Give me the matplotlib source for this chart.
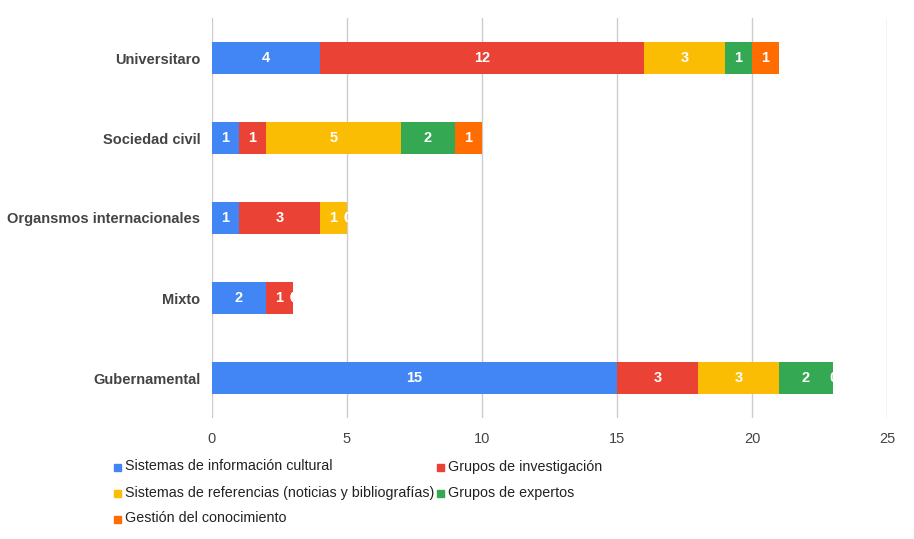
import matplotlib.pyplot as plt
import numpy as np
from matplotlib.patches import Rectangle

plt.rcParams['font.family'] = ['Liberation Sans', 'DejaVu Sans']

categories = ["Universitaro", "Sociedad civil", "Organsmos internacionales", "Mixto", "Gubernamental"]
series_names = ["Sistemas de información cultural", "Grupos de investigación",
                "Sistemas de referencias (noticias y bibliografías)", "Grupos de expertos",
                "Gestión del conocimiento"]
colors = ["#4285F4", "#EA4335", "#FBBC04", "#34A853", "#FF6D01"]

info_cultural = [4, 1, 1, 2, 15]
investigacion = [12, 1, 3, 1, 3]
referencias = [3, 5, 1, 0, 3]
expertos = [1, 2, 0, 0, 2]
gestion = [1, 1, 0, 0, 0]
series = [info_cultural, investigacion, referencias, expertos, gestion]
x_ticks = [0, 5, 10, 15, 20, 25]

W, H = 914, 539
fig = plt.figure(figsize=(W / 100, H / 100), dpi=100)
ax = fig.add_axes([212 / W, (H - 418) / H, (887 - 212) / W, 400 / H])

y = np.arange(len(categories))
left = np.zeros(len(categories))
last_bar = [None] * len(categories)
for vals, col in zip(series, colors):
    bars = ax.barh(y, vals, left=left, height=0.4, color=col, zorder=2)
    for i, (b, v) in enumerate(zip(bars, vals)):
        if v > 0:
            last_bar[i] = b
            ax.text(left[i] + v / 2, y[i], str(v), ha='center', va='center',
                    color='white', fontsize=10.5, fontweight='bold', zorder=3)
        else:
            # zero segments get a label right at the bar end, cut off by the bar
            t = ax.text(left[i], y[i], "0", ha='center', va='center',
                        color='white', fontsize=10.5, fontweight='bold', zorder=3)
            t.set_clip_path(last_bar[i])
    left = left + np.array(vals)

ax.set_xlim(0, 25)
ax.set_ylim(4.5, -0.5)
ax.set_xticks(x_ticks)
ax.set_yticks(y)
ax.set_yticklabels(categories, fontweight='bold')
ax.grid(axis='x', color='#cccccc', linewidth=1, zorder=0)
for s in ax.spines.values():
    s.set_visible(False)
ax.tick_params(axis='both', length=0, labelsize=10.5, labelcolor='#444444')
ax.tick_params(axis='x', pad=10)
ax.tick_params(axis='y', pad=8.5)

# legend drawn in the same row-wise order as the original
legend_pos = [(114, 467), (437, 467), (114, 493), (437, 493), (114, 519)]
for (px, py), name, col in zip(legend_pos, series_names, colors):
    fig.patches.append(Rectangle((px / W, (H - py - 3.5) / H), 7 / W, 7 / H,
                                 transform=fig.transFigure, color=col))
    fig.text((px + 11) / W, (H - py + 0.5) / H, name, ha='left', va='center',
             fontsize=10.3, color='#222222')

fig.savefig("out.png", dpi=100)
